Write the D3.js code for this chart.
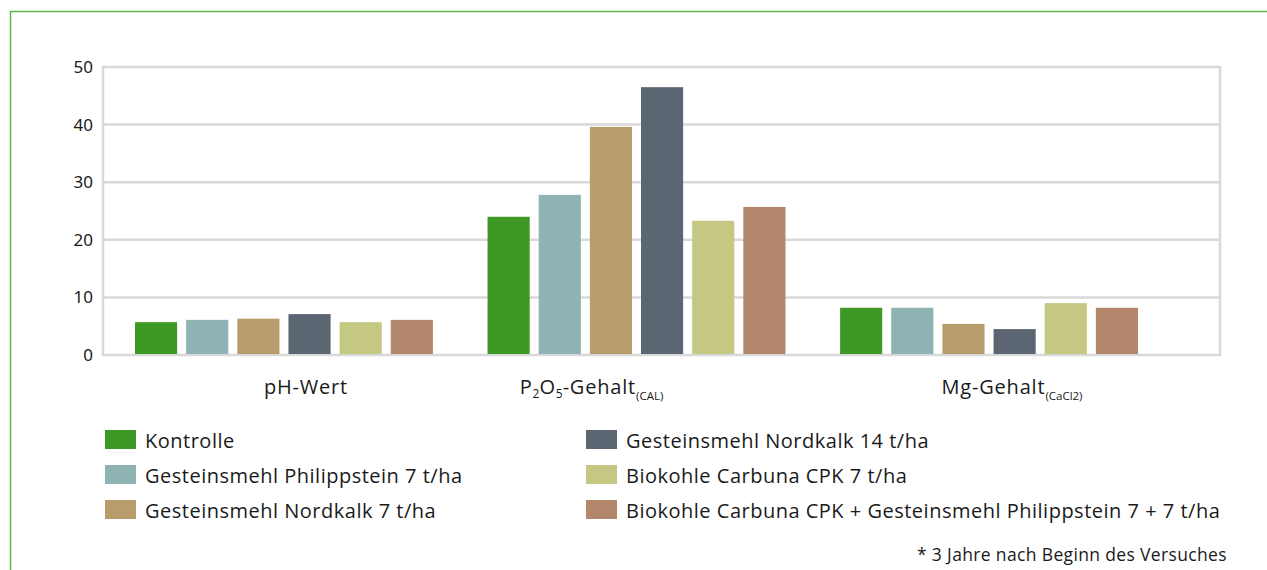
<!DOCTYPE html>
<html>
<head>
<meta charset="utf-8">
<script src="https://cdn.jsdelivr.net/npm/d3@7"></script>
<style>
  html, body { margin: 0; padding: 0; background: #fff; }
  svg { display: block; }
  .lbl { font-family: "Open Sans", Lato, sans-serif; fill: #1a1a1a; }
  .tick text { font-family: "Noto Sans", "Open Sans", sans-serif; font-size: 17px; fill: #1a1a1a; }
</style>
</head>
<body>
<svg id="chart" width="1267" height="570"></svg>
<script>
// Soil parameters (category groups)
const categories = ["pH", "P2O5", "Mg"];

// Treatments (series)
const seriesNames = [
  "Kontrolle",
  "Gesteinsmehl Philippstein 7 t/ha",
  "Gesteinsmehl Nordkalk 7 t/ha",
  "Gesteinsmehl Nordkalk 14 t/ha",
  "Biokohle Carbuna CPK 7 t/ha",
  "Biokohle Carbuna CPK + Gesteinsmehl Philippstein 7 + 7 t/ha"
];

// Values per treatment: [pH, P2O5, Mg]
const kontrolle      = [5.7, 24.0, 8.2];
const philippstein7  = [6.1, 27.8, 8.2];
const nordkalk7      = [6.3, 39.6, 5.4];
const nordkalk14     = [7.1, 46.5, 4.5];
const carbuna7       = [5.7, 23.3, 9.0];
const carbunaPhil    = [6.1, 25.7, 8.2];

const yTicks = [0, 10, 20, 30, 40, 50];
const footnote = "* 3 Jahre nach Beginn des Versuches";

const seriesValues = [kontrolle, philippstein7, nordkalk7, nordkalk14, carbuna7, carbunaPhil];
const colors = ["#3e9826", "#8db3b3", "#b89c6c", "#5c6672", "#c4c882", "#b3876b"];

const svg = d3.select("#chart");

// outer frame
svg.append("rect")
  .attr("x", 10.5).attr("y", 11.5)
  .attr("width", 1300).attr("height", 600)
  .attr("fill", "none").attr("stroke", "#5fb44a").attr("stroke-width", 1.5);

const plot = { left: 103, right: 1220, top: 67, bottom: 355 };

const y = d3.scaleLinear().domain([0, 50]).range([plot.bottom, plot.top]);
const x0 = d3.scaleBand().domain(categories).range([135, 1138]).paddingInner(0.155);
const x1 = d3.scaleBand().domain(d3.range(seriesNames.length))
  .range([0, x0.bandwidth()]).paddingInner(0.1765);

const grid = "#d9d9d9";

// horizontal grid lines
svg.append("g").selectAll("line").data(yTicks).join("line")
  .attr("x1", plot.left).attr("x2", plot.right)
  .attr("y1", d => y(d)).attr("y2", d => y(d))
  .attr("stroke", grid).attr("stroke-width", 2.5);

// plot frame sides
svg.append("line").attr("x1", plot.left).attr("x2", plot.left)
  .attr("y1", plot.top - 1.25).attr("y2", plot.bottom + 1.25)
  .attr("stroke", grid).attr("stroke-width", 2.5);
svg.append("line").attr("x1", plot.right).attr("x2", plot.right)
  .attr("y1", plot.top - 1.25).attr("y2", plot.bottom + 1.25)
  .attr("stroke", grid).attr("stroke-width", 2.5);

// y axis labels
const yAxis = d3.axisLeft(y).tickValues(yTicks).tickSize(0).tickPadding(10);
const ga = svg.append("g").attr("transform", `translate(${plot.left},0)`).call(yAxis);
ga.select(".domain").remove();

// bars
const groups = svg.append("g").selectAll("g").data(categories).join("g")
  .attr("transform", d => `translate(${x0(d)},0)`);
groups.selectAll("rect")
  .data((c, ci) => seriesValues.map((vals, si) => ({ si, v: vals[ci] })))
  .join("rect")
  .attr("x", d => x1(d.si))
  .attr("width", x1.bandwidth())
  .attr("y", d => y(d.v))
  .attr("height", d => y(0) - y(d.v) - 1)
  .attr("fill", d => colors[d.si]);

// category labels with subscripts (dy values are relative to the previous tspan)
const catLabels = {
  pH:   { shift: 22,  parts: [["pH-Wert", null, 0]] },
  P2O5: { shift: -45, parts: [["P", null, 0], ["2", "sub", 4], ["O", null, -4], ["5", "sub", 4], ["-Gehalt", null, -4], ["(CAL)", "idx", 6]] },
  Mg:   { shift: 23,  parts: [["Mg-Gehalt", null, 0], ["(CaCl2)", "idx", 6]] }
};
categories.forEach(c => {
  const info = catLabels[c];
  const t = svg.append("text").attr("class", "lbl")
    .attr("x", x0(c) + x0.bandwidth() / 2 + info.shift)
    .attr("y", 394)
    .attr("text-anchor", "middle")
    .style("font-size", "20px")
    .style("letter-spacing", "0.8px");
  info.parts.forEach(([s, kind, dy]) => {
    const ts = t.append("tspan").text(s).attr("dy", dy);
    if (kind === "sub") ts.style("font-size", "12px").style("letter-spacing", "0px");
    else if (kind === "idx") ts.style("font-size", "11.5px").style("letter-spacing", "0px");
  });
});

// legend
const legendCols = [105, 586];
const legend = svg.append("g");
seriesNames.forEach((name, i) => {
  const col = Math.floor(i / 3), row = i % 3;
  const g = legend.append("g")
    .attr("transform", `translate(${legendCols[col]},${430 + row * 35})`);
  g.append("rect").attr("width", 31).attr("height", 19).attr("fill", colors[i]);
  g.append("text").attr("class", "lbl")
    .attr("x", 40).attr("y", 18)
    .style("font-size", "20px")
    .style("letter-spacing", "0.5px")
    .text(name);
});

// footnote
svg.append("text").attr("class", "lbl")
  .attr("x", 1227).attr("y", 561)
  .attr("text-anchor", "end")
  .style("font-size", "17.5px")
  .style("letter-spacing", "0.35px")
  .text(footnote);
</script>
</body>
</html>
